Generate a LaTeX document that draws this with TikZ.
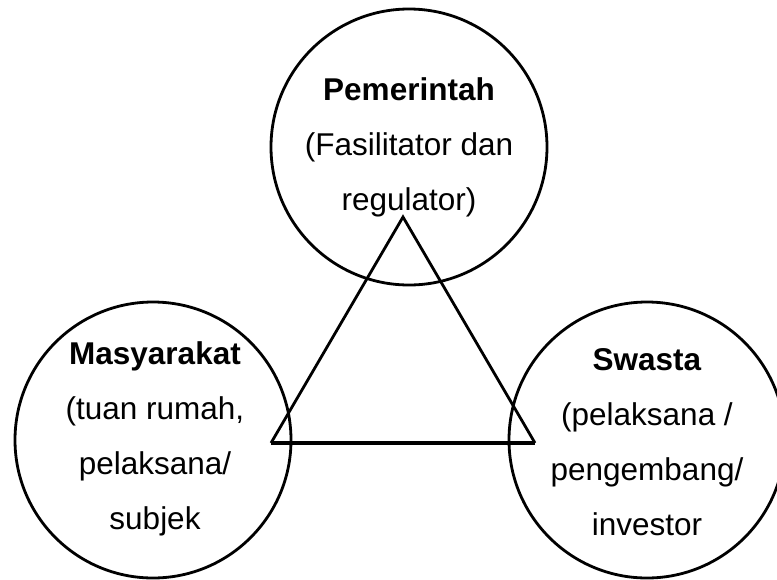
\documentclass[tikz,border=0pt]{standalone}
\usepackage{fontspec}
\setmainfont{Liberation Sans}
\usetikzlibrary{calc}

\begin{document}
\begin{tikzpicture}[
    x=1pt, y=-1pt,
    role/.style={circle, draw=black, line width=2.8pt, minimum size=276pt, inner sep=0pt},
    roletext/.style={align=center, font=\fontsize{31.5}{55}\selectfont, inner sep=0pt},
]
    \useasboundingbox (0,0) rectangle (777,579);

    \node[role] (P) at (409,147) {};
    \node[role] (M) at (153,440) {};
    \node[role] (S) at (647,440) {};

    \node[roletext] (PT) at ($(P.center)+(0,0)$) {\textbf{Pemerintah}\\(Fasilitator dan\\regulator)};
    \node[roletext] (MT) at ($(M.center)+(2,-1)$) {\textbf{Masyarakat}\\(tuan rumah,\\pelaksana/\\subjek};
    \node[roletext] (ST) at ($(S.center)+(0,2)$) {\textbf{Swasta}\\(pelaksana /\\pengembang/\\investor};

    \coordinate (A) at (403,217);
    \coordinate (BL) at (271,443);
    \coordinate (BR) at (535,443);

    \draw[line width=2.8pt] (BL) -- (A) -- (BR);
    \draw[line width=3.8pt] (BL) -- (BR);
\end{tikzpicture}
\end{document}
